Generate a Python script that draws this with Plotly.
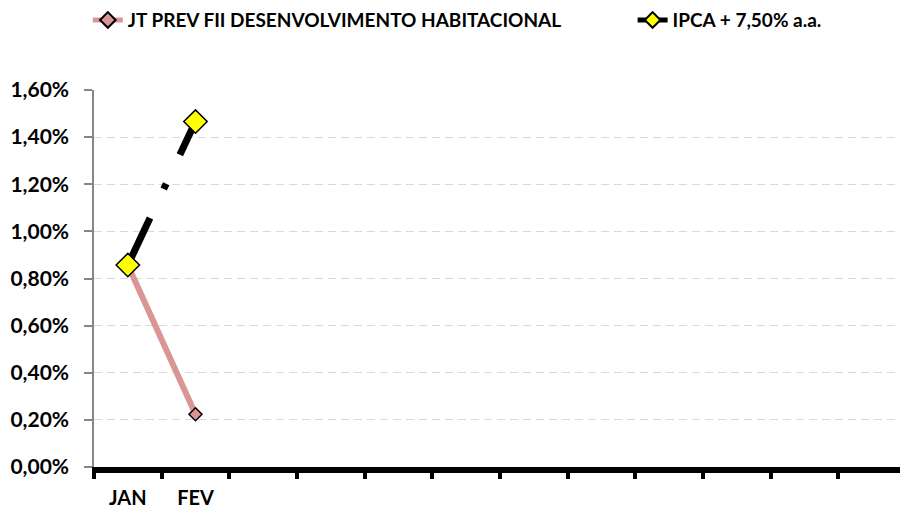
import plotly.graph_objects as go

months = ["JAN", "FEV", "MAR", "ABR", "MAI", "JUN", "JUL", "AGO", "SET", "OUT", "NOV", "DEZ"]
tick_labels = ["JAN", "FEV", "", "", "", "", "", "", "", "", "", ""]
jt_values = [0.00857, 0.00224]
ipca_values = [0.00857, 0.01466]
y_ticks = [0, 0.002, 0.004, 0.006, 0.008, 0.010, 0.012, 0.014, 0.016]

FONT = "Lato"
x_idx = list(range(len(months)))

fig = go.Figure()
fig.add_trace(go.Scatter(
    x=x_idx[:len(jt_values)], y=jt_values, mode="lines+markers",
    name="JT PREV FII DESENVOLVIMENTO HABITACIONAL",
    line=dict(color="#D99694", width=6),
    marker=dict(symbol="diamond", size=10, color="#D99694", line=dict(color="#000000", width=1.5)),
    legend="legend",
))
fig.add_trace(go.Scatter(
    x=x_idx[:len(ipca_values)], y=ipca_values, mode="lines+markers",
    name="IPCA + 7,50% a.a.",
    line=dict(color="#000000", width=7, dash="52px,32px,6px,32px"),
    marker=dict(symbol="diamond", size=18, color="#FFFF00", line=dict(color="#000000", width=1.5)),
    legend="legend2",
))

legend_common = dict(
    orientation="h", xref="container", yref="container",
    xanchor="left", yanchor="middle", y=0.976,
    font=dict(family=FONT, size=19, color="#000000", weight="bold"),
    bgcolor="rgba(0,0,0,0)", itemsizing="constant",
)

fig.update_layout(
    width=900, height=503,
    margin=dict(l=86, r=2, t=82, b=44, autoexpand=False),
    paper_bgcolor="white", plot_bgcolor="white",
    separators=",.",
    font=dict(family=FONT, size=21, color="#000000", weight="bold"),
    showlegend=True,
    legend=dict(x=0.0887, **legend_common),
    legend2=dict(x=0.694, **legend_common),
    xaxis=dict(
        range=[-0.5, len(months) - 0.5],
        tickmode="array", tickvals=x_idx, ticktext=tick_labels,
        ticks="", showgrid=False, zeroline=False, automargin=False,
        showline=True, linecolor="#000000", linewidth=6,
        tickfont=dict(family=FONT, size=20, color="#000000", weight="bold"),
        ticklabelstandoff=8,
        minor=dict(tickmode="linear", tick0=-0.5, dtick=1, ticks="outside",
                   ticklen=6, tickwidth=4, tickcolor="#000000", showgrid=False),
    ),
    yaxis=dict(
        range=[0, 0.016], automargin=False,
        tickmode="array", tickvals=y_ticks, tickformat=".2%",
        ticks="outside", ticklen=8, tickcolor="#868686", tickwidth=1.5,
        showline=True, linecolor="#868686", linewidth=1.5,
        showgrid=True, gridcolor="#D9D9D9", gridwidth=1.2, griddash="8px,5px",
        zeroline=False,
        tickfont=dict(family=FONT, size=21, color="#000000", weight="bold"),
        ticklabelstandoff=11,
    ),
)

fig.write_html("out.html")
